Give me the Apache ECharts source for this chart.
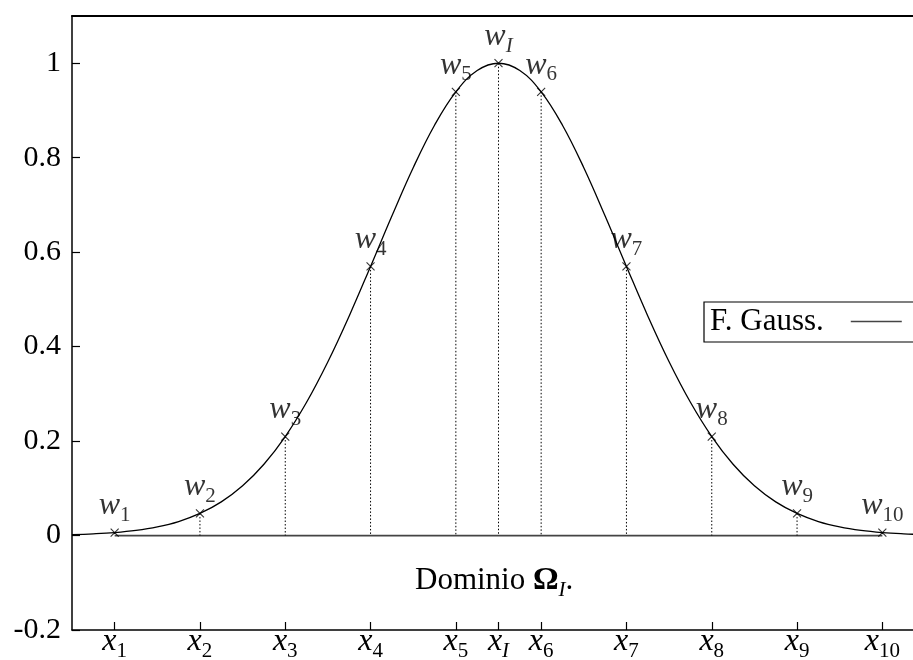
<!DOCTYPE html>
<html>
<head>
<meta charset="utf-8">
<script src="https://cdn.jsdelivr.net/npm/echarts@6/dist/echarts.min.js"></script>
<style>
  html, body { margin: 0; padding: 0; background: #fff; }
  #chart { width: 913px; height: 660px; }
</style>
</head>
<body>
<div id="chart"></div>
<script>
// Gaussian weight curve, sampled along the domain
var curveX = [-5, -4.75, -4.5, -4.25, -4, -3.75, -3.5, -3.25, -3, -2.75, -2.5, -2.25, -2, -1.75, -1.5, -1.25, -1, -0.75, -0.5, -0.25,
              0, 0.25, 0.5, 0.75, 1, 1.25, 1.5, 1.75, 2, 2.25, 2.5, 2.75, 3, 3.25, 3.5, 3.75, 4, 4.25, 4.5, 4.75, 5];
var curveY = [0.0019, 0.0036, 0.0063, 0.0109, 0.0183, 0.0297, 0.0468, 0.0713, 0.1054, 0.1510, 0.2096, 0.2821, 0.3679, 0.4650, 0.5698, 0.6766, 0.7788, 0.8688, 0.9394, 0.9845,
              1, 0.9845, 0.9394, 0.8688, 0.7788, 0.6766, 0.5698, 0.4650, 0.3679, 0.2821, 0.2096, 0.1510, 0.1054, 0.0713, 0.0468, 0.0297, 0.0183, 0.0109, 0.0063, 0.0036, 0.0019];

// Nodes x_i and their weights w_i
var nodeX = [-4.5, -3.5, -2.5, -1.5, -0.5, 0, 0.5, 1.5, 2.5, 3.5, 4.5];
var nodeY = [0.0063, 0.0468, 0.2096, 0.5698, 0.9394, 1, 0.9394, 0.5698, 0.2096, 0.0468, 0.0063];
var nodeSub = ['1', '2', '3', '4', '5', 'I', '6', '7', '8', '9', '10'];

// Axis ticks
var yTicks = [-0.2, 0, 0.2, 0.4, 0.6, 0.8, 1];
var yTickLabels = ['-0.2', '0', '0.2', '0.4', '0.6', '0.8', '1'];

var SERIF = '"Liberation Serif", "DejaVu Serif", serif';

// italic letter hung from the top of a tall line, subscript dropped to its bottom
function mathRich(big, small) {
  return {
    m: { fontFamily: SERIF, fontStyle: 'italic', fontSize: big, lineHeight: 36, verticalAlign: 'top', color: '#000' },
    s: { fontFamily: SERIF, fontSize: small, lineHeight: 20, verticalAlign: 'bottom', color: '#000' },
    si: { fontFamily: SERIF, fontStyle: 'italic', fontSize: small, lineHeight: 20, verticalAlign: 'bottom', color: '#000' }
  };
}
function subLabel(letter, sub) {
  var k = /^[0-9]+$/.test(sub) ? 's' : 'si';
  return '{m|' + letter + '}{' + k + '|' + sub + '}';
}

var nodes = nodeX.map(function (x, i) { return [x, nodeY[i], nodeSub[i]]; });

var chart = echarts.init(document.getElementById('chart'), null, { renderer: 'canvas' });

chart.setOption({
  animation: false,
  backgroundColor: '#fff',
  grid: { left: 72, top: 16, width: 853, height: 614, containLabel: false, outerBoundsMode: 'none' },
  xAxis: [{
    type: 'value', min: -5, max: 5, position: 'bottom',
    axisLine: { show: true, onZero: false, lineStyle: { color: '#000', width: 1.5 } },
    axisTick: { show: true, inside: true, length: 8, customValues: nodeX, lineStyle: { color: '#000', width: 1.2 } },
    axisLabel: {
      show: true, margin: -4, customValues: nodeX,
      formatter: function (v) {
        var i = nodeX.indexOf(v);
        return i < 0 ? '' : subLabel('x', nodeSub[i]);
      },
      rich: mathRich(32, 21)
    },
    splitLine: { show: false }
  }, {
    type: 'value', min: -5, max: 5, position: 'top',
    axisLine: { show: true, onZero: false, lineStyle: { color: '#000', width: 2 } },
    axisTick: { show: false }, axisLabel: { show: false }, splitLine: { show: false }
  }],
  yAxis: {
    type: 'value', min: -0.2, max: 1.1,
    axisLine: { show: true, onZero: false, lineStyle: { color: '#000', width: 1.5 } },
    axisTick: { show: true, inside: true, length: 8, customValues: yTicks, lineStyle: { color: '#000', width: 1.2 } },
    axisLabel: {
      show: true, margin: 11, customValues: yTicks,
      fontFamily: SERIF, fontSize: 30, color: '#000',
      formatter: function (v) {
        var i = yTicks.findIndex(function (t) { return Math.abs(t - v) < 1e-9; });
        return i < 0 ? '' : yTickLabels[i];
      }
    },
    splitLine: { show: false }
  },
  legend: {
    data: ['F. Gauss.'],
    left: 704, top: 302,
    orient: 'horizontal', align: 'right',
    itemWidth: 51, itemHeight: 14,
    padding: [4, 40, 5, 6],
    borderColor: '#000', borderWidth: 1.2,
    textStyle: { fontFamily: SERIF, fontSize: 31, color: '#000', padding: [0, 22, 0, 0] },
    itemStyle: { opacity: 0 },
    lineStyle: { color: '#444', width: 1.6 }
  },
  graphic: [{
    type: 'text', left: 415, top: 565, silent: true,
    style: {
      text: '{r|Dominio }{b|Ω}{i|I}{r|.}',
      rich: {
        r: { fontFamily: SERIF, fontSize: 31, lineHeight: 36, verticalAlign: 'top', fill: '#000' },
        b: { fontFamily: SERIF, fontWeight: 'bold', fontSize: 32, lineHeight: 36, verticalAlign: 'top', fill: '#000' },
        i: { fontFamily: SERIF, fontStyle: 'italic', fontSize: 21, lineHeight: 20, verticalAlign: 'bottom', fill: '#000' }
      }
    }
  }],
  series: [{
    // zero line spanning the nodes
    type: 'line', silent: true, symbol: 'none', z: 1,
    data: [[nodeX[0], 0], [nodeX[nodeX.length - 1], 0]],
    lineStyle: { color: '#444', width: 1.8 }
  }, {
    // dotted drops from each weight to the axis
    type: 'custom', silent: true, z: 2,
    data: nodes,
    renderItem: function (params, api) {
      var top = api.coord([api.value(0), api.value(1)]);
      var bot = api.coord([api.value(0), 0]);
      return {
        type: 'line',
        shape: { x1: top[0], y1: top[1], x2: bot[0], y2: bot[1] },
        style: { stroke: '#000', lineWidth: 1, lineDash: [1.5, 2] }
      };
    }
  }, {
    name: 'F. Gauss.',
    type: 'line', smooth: 0.4, symbol: 'none', z: 3,
    data: curveX.map(function (x, i) { return [x, curveY[i]]; }),
    lineStyle: { color: '#000', width: 1.3 },
    itemStyle: { color: '#000' }
  }, {
    // nodes marked with crosses and labelled w_i
    type: 'scatter', z: 4,
    data: nodes,
    symbol: 'path://M0,0L10,10M10,0L0,10',
    symbolSize: 8,
    itemStyle: { color: 'rgba(0,0,0,0)', borderColor: '#000', borderWidth: 1.1 },
    label: {
      show: true, position: 'top', distance: 2,
      formatter: function (p) { return subLabel('w', p.data[2]); },
      rich: mathRich(32, 21)
    }
  }]
});
</script>
</body>
</html>
